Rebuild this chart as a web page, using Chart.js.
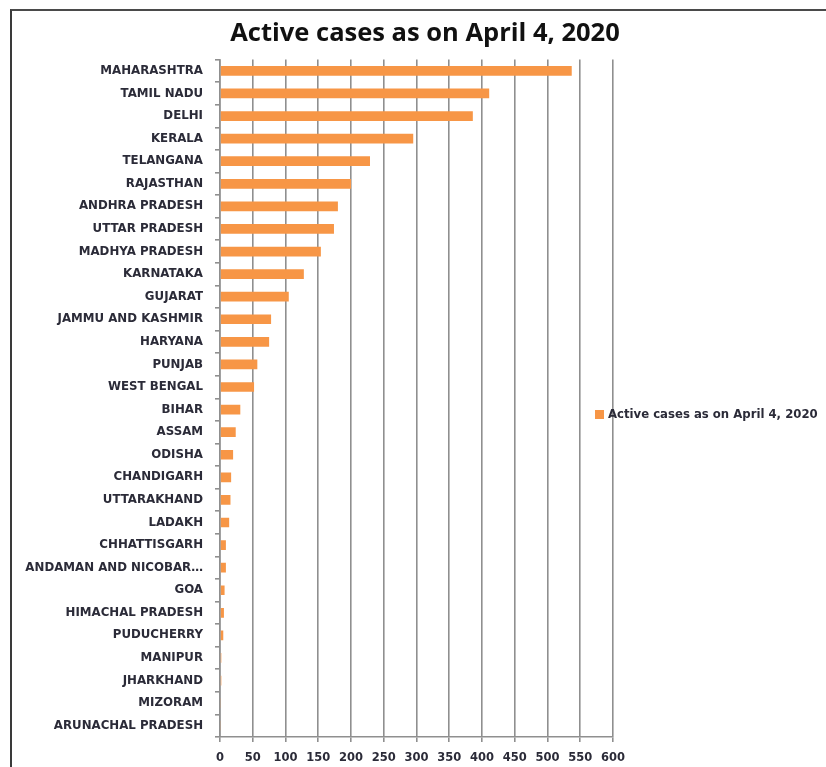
<!DOCTYPE html>
<html>
<head>
<meta charset="utf-8">
<script src="https://cdn.jsdelivr.net/npm/chart.js@4.4.1/dist/chart.umd.min.js"></script>
<style>
  html, body { margin: 0; padding: 0; background: #fff; overflow: hidden; }
  body { width: 826px; height: 767px; position: relative; }
  #frame { position: absolute; left: 10px; top: 9px; width: 900px; height: 900px;
           border-left: 2px solid #3a3a3a; border-top: 2px solid #4a4a4a; }
  #wrap { position: absolute; left: 24px; top: 0; width: 802px; height: 767px; }
</style>
</head>
<body>
<div id="frame"></div>
<div id="wrap"><canvas id="c" width="802" height="767"></canvas></div>
<script>
// Active COVID-19 cases per state / UT
const states = [
  "MAHARASHTRA", "TAMIL NADU", "DELHI", "KERALA", "TELANGANA", "RAJASTHAN",
  "ANDHRA PRADESH", "UTTAR PRADESH", "MADHYA PRADESH", "KARNATAKA", "GUJARAT",
  "JAMMU AND KASHMIR", "HARYANA", "PUNJAB", "WEST BENGAL", "BIHAR", "ASSAM",
  "ODISHA", "CHANDIGARH", "UTTARAKHAND", "LADAKH", "CHHATTISGARH",
  "ANDAMAN AND NICOBAR\u2026", "GOA", "HIMACHAL PRADESH", "PUDUCHERRY",
  "MANIPUR", "JHARKHAND", "MIZORAM", "ARUNACHAL PRADESH"
];
const activeCases = [
  537, 411, 386, 295, 229, 200,
  180, 174, 154, 128, 105,
  78, 75, 57, 52, 31, 24,
  20, 17, 16, 14, 9,
  9, 7, 6, 5,
  2, 2, 1, 1
];
const xTicks = [0, 50, 100, 150, 200, 250, 300, 350, 400, 450, 500, 550, 600];
const seriesName = "Active cases as on April 4, 2020";

const barColor = "#F79646";
const gridColor = "#8f8f8f";
const textColor = "#2b2b38";
const titleFont = "'Open Sans'";
const labelFont = "'DejaVu Sans'";

// Legend drawn inside the right-hand space, next to the plot
const sideLegend = {
  id: "sideLegend",
  afterDraw(chart) {
    const ds = chart.data.datasets[0];
    const ctx = chart.ctx;
    const x = 571, y = 415;
    ctx.save();
    ctx.fillStyle = ds.backgroundColor;
    ctx.fillRect(x, y - 5, 9, 9);
    ctx.fillStyle = textColor;
    ctx.font = "bold 11.7px " + labelFont;
    ctx.textBaseline = "middle";
    ctx.textAlign = "left";
    ctx.fillText(ds.label, x + 13, y);
    ctx.restore();
  }
};

new Chart(document.getElementById("c"), {
  type: "bar",
  data: {
    labels: states,
    datasets: [{
      label: seriesName,
      data: activeCases,
      backgroundColor: barColor,
      borderWidth: 0,
      categoryPercentage: 1,
      barPercentage: 0.43
    }]
  },
  plugins: [sideLegend],
  options: {
    indexAxis: "y",
    responsive: false,
    animation: false,
    layout: { padding: 0 },
    plugins: {
      legend: { display: false },
      tooltip: { enabled: false },
      title: {
        display: true,
        text: seriesName,
        color: "#111",
        font: { family: titleFont, size: 25.5, weight: "bold", lineHeight: 1.2 },
        padding: { top: 18, bottom: 11 }
      }
    },
    scales: {
      x: {
        type: "linear",
        min: 0,
        max: 600,
        afterBuildTicks(scale) { scale.ticks = xTicks.map(v => ({ value: v })); },
        afterFit(scale) { scale.height = 30; },
        grid: { color: gridColor, lineWidth: 1.6, tickLength: 5 },
        border: { color: gridColor, width: 1.6 },
        ticks: {
          color: textColor,
          padding: 9,
          font: { family: labelFont, size: 11.5, weight: "bold" }
        }
      },
      y: {
        type: "category",
        afterFit(scale) { scale.width = 196; },
        grid: { offset: true, drawOnChartArea: false, color: gridColor, lineWidth: 1.6, tickLength: 5 },
        border: { color: gridColor, width: 1.6 },
        ticks: {
          color: textColor,
          padding: 12,
          autoSkip: false,
          font: { family: labelFont, size: 11.8, weight: "bold" }
        }
      },
      legendSpace: {
        axis: "y",
        type: "linear",
        position: "right",
        display: true,
        afterFit(scale) { scale.width = 213; },
        grid: { display: false, drawTicks: false },
        border: { display: false },
        ticks: { display: false }
      }
    }
  }
});
</script>
</body>
</html>
